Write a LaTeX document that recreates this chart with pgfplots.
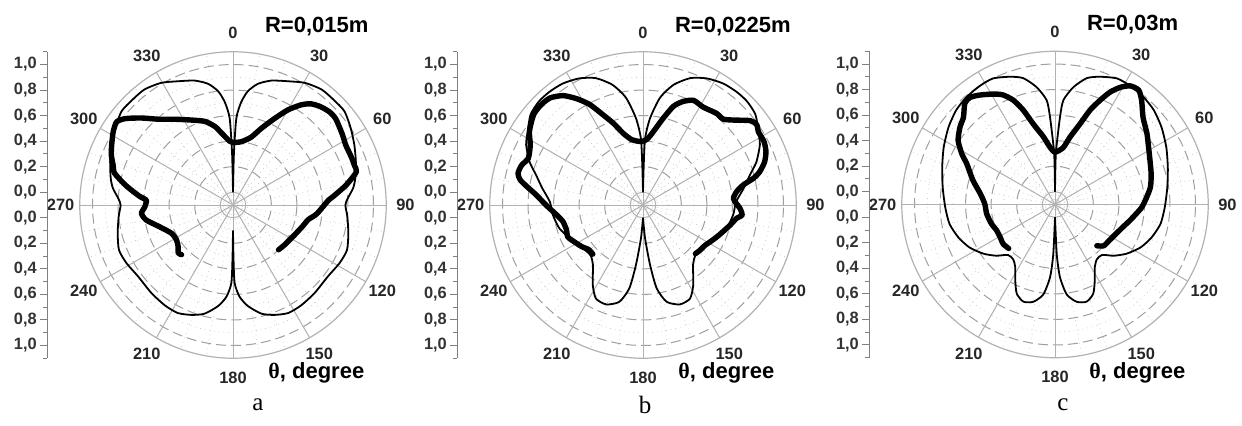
\documentclass[border=0pt]{standalone}
\usepackage{fontspec}
\setmainfont{Liberation Sans}
\newfontfamily\serif{Liberation Serif}
\usepackage{pgfplots}
\usepackage{pgfplotstable}
\pgfplotsset{compat=1.18}

\def\U{63.85pt}

% theta (deg, clockwise from top), r ; theory curves given for 0..180, mirrored
\pgfplotstableread{
theta r
0 0.0
1 0.3
2.2 0.58
4.6 0.71
7.5 0.80
11.7 0.87
17.2 0.92
23.9 0.96
30.5 1.01
37.5 1.04
44 1.04
50 1.04
57 1.00
63.7 0.96
70.6 0.92
77.7 0.88
82 0.85
86.7 0.80
90 0.78
95.8 0.80
103.8 0.83
111.6 0.86
118.7 0.85
127 0.83
137.2 0.84
145.9 0.85
152.9 0.85
159.3 0.82
165.3 0.78
171.6 0.70
175.9 0.62
178.8 0.51
179.5 0.3
180 0.1
}\thinA

\pgfplotstableread{
theta r
134.5 0.40
128 0.41
118 0.43
107 0.47
101 0.50
96 0.56
87 0.65
85 0.69
80 0.80
75 0.90
72 0.90
68 0.90
62 0.90
57 0.92
50 0.95
46 0.95
41.5 0.93
37.6 0.90
34.3 0.85
30 0.76
25.6 0.65
20.3 0.54
15 0.45
7.5 0.40
0 0.39
-3 0.40
-9 0.47
-12.9 0.53
-18.5 0.59
-26 0.64
-34 0.71
-41 0.79
-46.5 0.89
-51.2 0.98
-54.4 1.02
-58.5 1.00
-63.7 0.96
-67.7 0.93
-71.5 0.89
-75 0.86
-79.8 0.75
-84.9 0.63
-86.7 0.58
-91.1 0.59
-95.2 0.62
-99.8 0.59
-106.5 0.50
-114.7 0.43
-121.7 0.42
-127.3 0.44
-131.3 0.47
-134 0.46
}\thickA

\pgfplotstableread{
theta r
0 0.0
1 0.2
1.8 0.42
4.6 0.58
9 0.75
14.2 0.87
20.4 0.96
26.7 1.01
33.4 1.04
39.6 1.05
45.1 1.05
51.2 1.03
57.6 0.97
62.7 0.93
69.2 0.85
74.3 0.77
80.5 0.70
88 0.63
96.3 0.61
105.6 0.58
114.3 0.53
125.6 0.48
133.9 0.47
140 0.51
147.9 0.64
153.3 0.72
159.7 0.73
166.3 0.68
170.7 0.56
173.3 0.37
176.5 0.16
180 0.0
}\thinB

\pgfplotstableread{
theta r
132.9 0.46
128.3 0.47
122.8 0.48
118.7 0.50
113.3 0.53
108.4 0.56
103 0.60
98.1 0.64
95.8 0.68
92 0.66
89 0.63
85.8 0.61
81.9 0.64
78.7 0.70
76.4 0.79
74.1 0.85
70.5 0.91
66.5 0.95
62.3 0.97
57.6 0.97
54.8 0.99
51.9 0.97
46.7 0.87
43 0.82
38.8 0.82
31.6 0.80
25.8 0.81
21.2 0.77
17.2 0.71
13.2 0.60
8 0.48
4 0.42
0 0.40
-4 0.40
-9.9 0.42
-15.3 0.48
-19.9 0.58
-23.8 0.67
-27.9 0.79
-31.9 0.88
-36.1 0.96
-40.9 1.01
-45.9 1.02
-50.6 1.01
-57 0.96
-62 0.90
-67.8 0.87
-71.8 0.90
-75.8 0.91
-78.5 0.88
-81 0.82
-84.6 0.74
-90 0.66
-96.6 0.58
-101.8 0.54
-108.1 0.53
-113 0.54
-118.3 0.51
-124.2 0.48
-129.4 0.45
-134.4 0.45
}\thickB

\pgfplotstableread{
theta r
0 0.0
0.5 0.15
1.1 0.32
3.3 0.59
4.6 0.72
8.9 0.83
14.1 0.92
19.3 0.96
26.1 1.00
32.2 1.00
39.4 0.99
46.3 0.97
54.1 0.93
62.8 0.88
71.8 0.83
81.2 0.79
91.4 0.76
100.4 0.74
108.7 0.70
116.6 0.65
124.5 0.58
131.1 0.51
137 0.44
142.6 0.44
147.5 0.48
152.3 0.57
156.8 0.66
162 0.70
167.5 0.68
172.6 0.61
176.1 0.47
178 0.29
180 0.0
}\thinC

\pgfplotstableread{
theta r
134.6 0.36
130.3 0.40
123.2 0.41
115.5 0.43
108.4 0.46
102 0.50
96.5 0.54
91.8 0.58
85.5 0.62
79.6 0.66
72.4 0.69
65.1 0.72
58.4 0.76
52.3 0.81
45.3 0.87
39.8 0.96
36.2 1.01
32.4 1.00
29.1 0.95
26.1 0.88
23.4 0.79
20.4 0.69
17.2 0.56
12.5 0.44
8.2 0.35
0 0.31
-5 0.35
-9.8 0.44
-15 0.55
-18.6 0.68
-21.8 0.78
-25.4 0.85
-29.1 0.89
-34.5 0.94
-38.4 0.97
-41.8 0.96
-46.4 0.89
-50.8 0.86
-56.5 0.81
-61.5 0.73
-65.3 0.66
-73.6 0.57
-81.9 0.49
-89.5 0.45
-97.8 0.44
-106.9 0.42
-114 0.40
-120.7 0.40
-127.3 0.41
-133.5 0.40
}\thickC

\pgfplotsset{
  polarpanel/.style={
    anchor=origin, x=\U, y=\U,
    xmin=-1.455, xmax=1.25, ymin=-1.2, ymax=1.2,
    axis x line=none, axis y line*=left,
    ytick={-1.1,-0.9,-0.7,-0.5,-0.3,-0.1,0.1,0.3,0.5,0.7,0.9,1.1},
    yticklabels={{1,0},{0,8},{0,6},{0,4},{0,2},{0,0},{0,0},{0,2},{0,4},{0,6},{0,8},{1,0}},
    minor ytick={-1.2,-1.0,-0.8,-0.6,-0.4,-0.2,0.2,0.4,0.6,0.8,1.0,1.2},
    tick align=outside, major tick length=3.5pt, minor tick length=2pt,
    y axis line style={gray, line width=0.6pt},
    ytick style={gray, line width=0.5pt},
    yticklabel style={font=\fontsize{8.2}{9}\selectfont\bfseries, text=black!80, inner sep=1.5pt},
    clip=false,
  },
  theory/.style={black, line width=0.9pt, smooth, tension=0.4},
  measured/.style={black, line width=2.7pt, smooth, tension=0.4, line join=round, line cap=round},
}

\newcommand{\polargrid}[1]{%
\begin{scope}[shift={#1}, x=\U, y=\U]
  \foreach \a in {0,10,...,350}
    \draw[gray!45, line width=0.35pt, dotted] (0,0) -- ({90-\a}:1.2);
  \foreach \rr in {0.2,0.4,0.6,0.8,1.0}
    \draw[gray!45, line width=0.35pt, dotted] (0,0) circle[radius=\rr];
  \foreach \rr in {0.3,0.5,0.7,0.9,1.1}
    \draw[gray!75, line width=0.5pt, dash pattern=on 5pt off 2.5pt] (0,0) circle[radius=\rr];
  \foreach \a in {0,30,...,330}
    \draw[gray!60, line width=0.5pt] (0,0) -- ({90-\a}:1.2);
  \draw[gray!60, line width=0.6pt] (0,0) circle[radius=1.2];
  \draw[gray!60, line width=0.5pt] (0,0) circle[radius=0.1];
  \foreach \a in {0,30,...,330}
    \node[font=\fontsize{8.2}{9}\selectfont\bfseries, text=black!85, inner sep=0pt] at ({90-\a}:1.35) {\a};
\end{scope}}

\begin{document}
\begin{tikzpicture}
\useasboundingbox (0,0) rectangle (621pt,212.5pt);
\fill[white] (0,0) rectangle (621pt,212.5pt);

\polargrid{(116.5pt,110pt)}
\polargrid{(321.5pt,110pt)}
\polargrid{(527.5pt,110.25pt)}

\begin{axis}[polarpanel, at={(116.5pt,110pt)}]
\addplot[theory] table[x expr={(\thisrow{r}+0.1)*sin(\thisrow{theta})}, y expr={(\thisrow{r}+0.1)*cos(\thisrow{theta})}] {\thinA};
\addplot[theory] table[x expr={-(\thisrow{r}+0.1)*sin(\thisrow{theta})}, y expr={(\thisrow{r}+0.1)*cos(\thisrow{theta})}] {\thinA};
\addplot[measured] table[x expr={(\thisrow{r}+0.1)*sin(\thisrow{theta})}, y expr={(\thisrow{r}+0.1)*cos(\thisrow{theta})}] {\thickA};
\end{axis}

\begin{axis}[polarpanel, at={(321.5pt,110pt)}]
\addplot[theory] table[x expr={(\thisrow{r}+0.1)*sin(\thisrow{theta})}, y expr={(\thisrow{r}+0.1)*cos(\thisrow{theta})}] {\thinB};
\addplot[theory] table[x expr={-(\thisrow{r}+0.1)*sin(\thisrow{theta})}, y expr={(\thisrow{r}+0.1)*cos(\thisrow{theta})}] {\thinB};
\addplot[measured] table[x expr={(\thisrow{r}+0.1)*sin(\thisrow{theta})}, y expr={(\thisrow{r}+0.1)*cos(\thisrow{theta})}] {\thickB};
\end{axis}

\begin{axis}[polarpanel, at={(527.5pt,110.25pt)}]
\addplot[theory] table[x expr={(\thisrow{r}+0.1)*sin(\thisrow{theta})}, y expr={(\thisrow{r}+0.1)*cos(\thisrow{theta})}] {\thinC};
\addplot[theory] table[x expr={-(\thisrow{r}+0.1)*sin(\thisrow{theta})}, y expr={(\thisrow{r}+0.1)*cos(\thisrow{theta})}] {\thinC};
\addplot[measured] table[x expr={(\thisrow{r}+0.1)*sin(\thisrow{theta})}, y expr={(\thisrow{r}+0.1)*cos(\thisrow{theta})}] {\thickC};
\end{axis}

\begin{scope}[font=\fontsize{11}{12}\selectfont\bfseries]
\node[anchor=west] at (129pt,199pt) {R=0,015m};
\node[anchor=west] at (334pt,199pt) {R=0,0225m};
\node[anchor=west] at (540pt,200pt) {R=0,03m};
\end{scope}
\begin{scope}[font=\fontsize{11}{12}\selectfont\bfseries, inner sep=0pt]
\node[anchor=west] at (134pt,26pt) {{\serif θ}, degree};
\node[anchor=west] at (339pt,26pt) {{\serif θ}, degree};
\node[anchor=west] at (544.5pt,26pt) {{\serif θ}, degree};
\end{scope}

\begin{scope}[font=\serif\fontsize{12.5}{14}\selectfont]
\node at (129pt,10pt) {a};
\node at (322.5pt,10pt) {b};
\node at (531.5pt,10pt) {c};
\end{scope}
\end{tikzpicture}
\end{document}
